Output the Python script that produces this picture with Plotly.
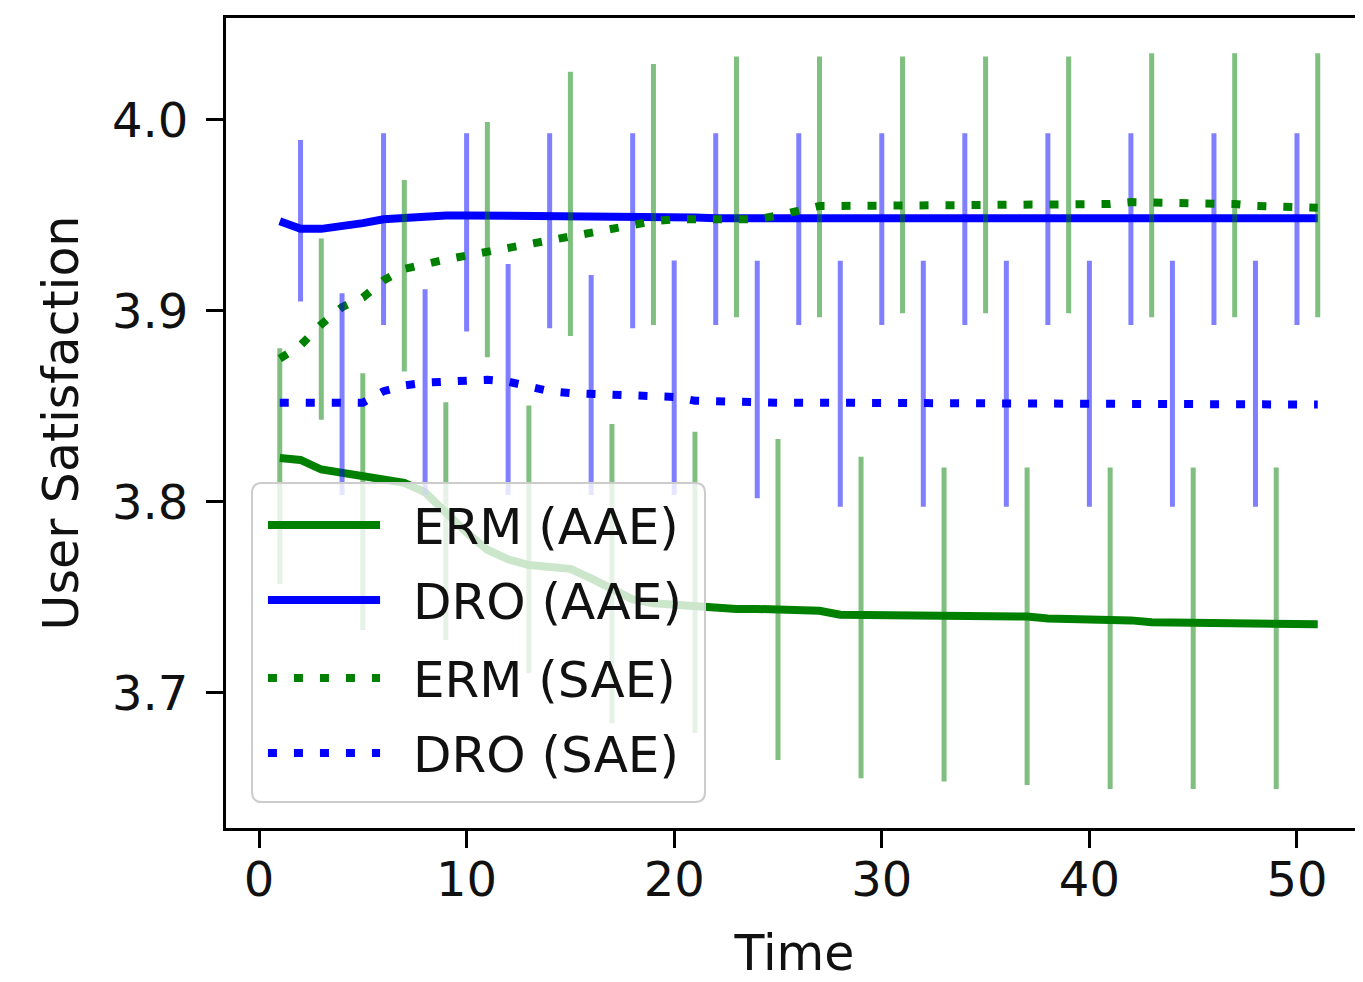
import plotly.graph_objects as go

# ---- data
time = list(range(1, 52))

erm_aae = [3.823, 3.822, 3.817, 3.815, 3.814, 3.812, 3.810, 3.805, 3.794, 3.784,
           3.775, 3.770, 3.767, 3.766, 3.765, 3.760, 3.754, 3.749, 3.747, 3.746,
           3.745, 3.744, 3.744, 3.744, 3.744, 3.744, 3.743, 3.741, 3.741, 3.741,
           3.741, 3.741, 3.741, 3.741, 3.741, 3.740, 3.740, 3.739, 3.739, 3.738,
           3.738, 3.738, 3.737, 3.737, 3.737, 3.737, 3.736, 3.736, 3.736, 3.736,
           3.736]
dro_aae = [3.947, 3.943, 3.943, 3.944, 3.946, 3.948, 3.949, 3.950, 3.950, 3.950,
           3.950, 3.950, 3.950, 3.950, 3.950, 3.950, 3.950, 3.950, 3.950, 3.950,
           3.949, 3.9485, 3.9485, 3.9485, 3.9485, 3.9485, 3.9485, 3.9485, 3.9485, 3.9485,
           3.9485, 3.9485, 3.9485, 3.9485, 3.9485, 3.9485, 3.9485, 3.9485, 3.9485, 3.9485,
           3.9485, 3.9485, 3.9485, 3.9485, 3.9485, 3.9485, 3.9485, 3.9485, 3.9485, 3.9485,
           3.9485]
erm_sae = [3.875, 3.882, 3.893, 3.902, 3.907, 3.916, 3.922, 3.925, 3.927, 3.929,
           3.931, 3.933, 3.935, 3.938, 3.940, 3.941, 3.944, 3.946, 3.947, 3.948,
           3.948, 3.948, 3.948, 3.948, 3.950, 3.952, 3.955, 3.955, 3.955, 3.955,
           3.955, 3.955, 3.955, 3.955, 3.955, 3.955, 3.955, 3.955, 3.955, 3.955,
           3.956, 3.957, 3.957, 3.957, 3.957, 3.956, 3.956, 3.955, 3.955, 3.954,
           3.954]
dro_sae = [3.852, 3.852, 3.852, 3.852, 3.852, 3.858, 3.861, 3.8625, 3.863, 3.864,
           3.864, 3.863, 3.860, 3.858, 3.857, 3.8565, 3.856, 3.856, 3.8555, 3.855,
           3.853, 3.8525, 3.852, 3.852, 3.852, 3.852, 3.852, 3.852, 3.852, 3.852,
           3.852, 3.852, 3.852, 3.852, 3.852, 3.852, 3.852, 3.852, 3.852, 3.852,
           3.852, 3.852, 3.852, 3.852, 3.852, 3.852, 3.8515, 3.8515, 3.8515, 3.851,
           3.851]

# error bars: only drawn every 4th step, top and bottom of each bar
erm_aae_bar_t = [1, 5, 9, 13, 17, 21, 25, 29, 33, 37, 41, 45, 49]
erm_aae_bar_hi = [3.8805, 3.8674, 3.8522, 3.8505, 3.8408, 3.8368, 3.833, 3.8237, 3.818, 3.818, 3.818, 3.818, 3.818]
erm_aae_bar_lo = [3.757, 3.733, 3.7277, 3.7103, 3.6841, 3.679, 3.6649, 3.6553, 3.6536, 3.6518, 3.6497, 3.6497, 3.6497]

dro_aae_bar_t = [2, 6, 10, 14, 18, 22, 26, 30, 34, 38, 42, 46, 50]
dro_aae_bar_hi = [3.9895, 3.993, 3.993, 3.993, 3.993, 3.993, 3.993, 3.993, 3.993, 3.993, 3.993, 3.993, 3.993]
dro_aae_bar_lo = [3.9049, 3.8927, 3.8892, 3.891, 3.891, 3.8927, 3.8927, 3.8927, 3.8927, 3.8927, 3.8927, 3.8927, 3.8927]

erm_sae_bar_t = [3, 7, 11, 15, 19, 23, 27, 31, 35, 39, 43, 47, 51]
erm_sae_bar_hi = [3.938, 3.9686, 3.999, 4.0253, 4.0293, 4.0332, 4.0332, 4.0332, 4.0332, 4.0332, 4.035, 4.035, 4.035]
erm_sae_bar_lo = [3.843, 3.8683, 3.8758, 3.8869, 3.8927, 3.8967, 3.8967, 3.8988, 3.8988, 3.8988, 3.8967, 3.8967, 3.8967]

dro_sae_bar_t = [4, 8, 12, 16, 20, 24, 28, 32, 36, 40, 44, 48]
dro_sae_bar_hi = [3.9093, 3.9114, 3.9246, 3.9188, 3.9264, 3.9263, 3.9263, 3.9263, 3.9263, 3.9263, 3.9263, 3.9263]
dro_sae_bar_lo = [3.8037, 3.8037, 3.8037, 3.8037, 3.8037, 3.802, 3.7975, 3.7975, 3.7975, 3.7975, 3.7975, 3.7975]

labels = ['ERM (AAE)', 'DRO (AAE)', 'ERM (SAE)', 'DRO (SAE)']

FONT = 'DejaVu Sans'
GREEN = '#008000'
BLUE = '#0000ff'
DOT = '9px,17px'


def err_arrays(y, bar_t, hi, lo):
    plus = [0] * len(y)
    minus = [0] * len(y)
    for t, h, l in zip(bar_t, hi, lo):
        plus[t - 1] = h - y[t - 1]
        minus[t - 1] = y[t - 1] - l
    return plus, minus


series = [
    (erm_aae, erm_aae_bar_t, erm_aae_bar_hi, erm_aae_bar_lo, GREEN, 'rgba(0,128,0,0.5)', 'solid'),
    (dro_aae, dro_aae_bar_t, dro_aae_bar_hi, dro_aae_bar_lo, BLUE, 'rgba(0,0,255,0.5)', 'solid'),
    (erm_sae, erm_sae_bar_t, erm_sae_bar_hi, erm_sae_bar_lo, GREEN, 'rgba(0,128,0,0.5)', DOT),
    (dro_sae, dro_sae_bar_t, dro_sae_bar_hi, dro_sae_bar_lo, BLUE, 'rgba(0,0,255,0.5)', DOT),
]

fig = go.Figure()
for (y, bt, hi, lo, col, ecol, dash), name in zip(series, labels):
    plus, minus = err_arrays(y, bt, hi, lo)
    fig.add_trace(go.Scatter(
        x=time, y=y, mode='lines', name=name,
        line=dict(color=col, width=8, dash=dash),
        error_y=dict(type='data', symmetric=False, array=plus, arrayminus=minus,
                     color=ecol, thickness=5, width=0),
        showlegend=False))

# ---- legend drawn by hand (long line samples, rounded translucent box)
x0, x1, y0, y1 = 0.0229, 0.4213, 0.0321, 0.4259
rx, ry = 0.0088, 0.0123
box = (f'M {x0+rx},{y0} L {x1-rx},{y0} Q {x1},{y0} {x1},{y0+ry} '
       f'L {x1},{y1-ry} Q {x1},{y1} {x1-rx},{y1} L {x0+rx},{y1} '
       f'Q {x0},{y1} {x0},{y1-ry} L {x0},{y0+ry} Q {x0},{y0} {x0+rx},{y0} Z')
fig.add_shape(type='path', path=box, xref='paper', yref='paper', layer='above',
              fillcolor='rgba(255,255,255,0.8)', line=dict(color='#cccccc', width=2))

rows = [0.3741, 0.2815, 0.1852, 0.0926]
for (y, bt, hi, lo, col, ecol, dash), name, ry_ in zip(series, labels, rows):
    fig.add_shape(type='line', xref='paper', yref='paper', layer='above',
                  x0=0.0369, x1=0.1355, y0=ry_, y1=ry_,
                  line=dict(color=col, width=8, dash=dash))
    fig.add_annotation(text=name, xref='paper', yref='paper', x=0.163, y=ry_ - 0.003,
                       xanchor='left', yanchor='middle', showarrow=False,
                       font=dict(family=FONT, size=50, color='#111111'))

# page body has an 8px margin, so the figure is a bit smaller than the window
fig.update_layout(
    width=1355, height=974,
    margin=dict(l=218, r=0, t=10, b=154),
    plot_bgcolor='white', paper_bgcolor='white',
    font=dict(family=FONT, size=48, color='#111111'),
    showlegend=False,
)
fig.update_xaxes(range=[-1.59, 53.18], tickvals=[0, 10, 20, 30, 40, 50],
                 showgrid=False, zeroline=False, automargin=False,
                 showline=True, linecolor='black', linewidth=3, mirror=True,
                 ticks='outside', ticklen=17, tickwidth=3, tickcolor='black',
                 ticklabelstandoff=-10,
                 title=dict(text='Time', standoff=31, font=dict(size=49)),
                 tickfont=dict(size=48))
fig.update_yaxes(range=[3.6293, 4.0534], tickvals=[3.7, 3.8, 3.9, 4.0],
                 ticktext=['3.7', '3.8', '3.9', '4.0'],
                 showgrid=False, zeroline=False, automargin=False,
                 showline=True, linecolor='black', linewidth=3,
                 ticks='outside', ticklen=17, tickwidth=3, tickcolor='black',
                 ticklabelstandoff=8,
                 title=dict(text='User Satisfaction', standoff=18, font=dict(size=49)),
                 tickfont=dict(size=48))

fig.write_html('out.html')
